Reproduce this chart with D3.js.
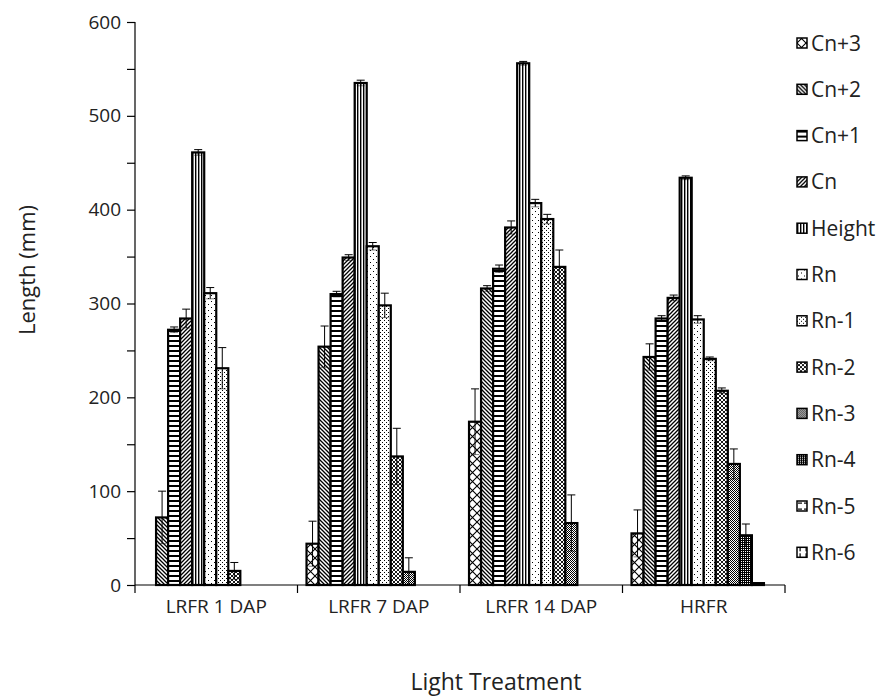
<!DOCTYPE html>
<html>
<head>
<meta charset="utf-8">
<script src="https://cdn.jsdelivr.net/npm/d3@7"></script>
<style>
  html, body { margin: 0; padding: 0; background: #fff; }
  svg { display: block; }
  text { font-family: "Open Sans", "DejaVu Sans", sans-serif; fill: #222; }
</style>
</head>
<body>
<svg id="chart" width="894" height="696"></svg>
<script>
// ---- data ----
const categories = ["LRFR 1 DAP", "LRFR 7 DAP", "LRFR 14 DAP", "HRFR"];
const seriesNames = ["Cn+3", "Cn+2", "Cn+1", "Cn", "Height", "Rn", "Rn-1", "Rn-2", "Rn-3", "Rn-4", "Rn-5", "Rn-6"];
// values per series, one per category
const values = [
  [0, 44, 174, 55],      // Cn+3
  [72, 254, 316, 243],   // Cn+2
  [272, 310, 337, 284],  // Cn+1
  [284, 349, 381, 306],  // Cn
  [461, 535, 556, 434],  // Height
  [311, 361, 407, 283],  // Rn
  [231, 298, 390, 241],  // Rn-1
  [15, 137, 339, 207],   // Rn-2
  [0, 14, 66, 129],      // Rn-3
  [0, 0, 0, 53],         // Rn-4
  [0, 0, 0, 2],          // Rn-5
  [0, 0, 0, 0]           // Rn-6
];
const errors = [
  [0, 24, 35, 25],
  [28, 22, 3, 14],
  [3, 3, 4, 3],
  [10, 3, 7, 3],
  [3, 3, 2, 2],
  [6, 4, 4, 4],
  [22, 13, 5, 2],
  [9, 30, 18, 3],
  [0, 15, 30, 16],
  [0, 0, 0, 12],
  [0, 0, 0, 0],
  [0, 0, 0, 0]
];
const yTicks = [0, 50, 100, 150, 200, 250, 300, 350, 400, 450, 500, 550, 600];
const yLabelTicks = [0, 100, 200, 300, 400, 500, 600];
const xTitle = "Light Treatment";
const yTitle = "Length (mm)";

// ---- layout ----
const svg = d3.select("#chart");
const mLeft = 135, mRight = 785, mTop = 22, mBottom = 585;

const x0 = d3.scaleBand().domain(categories).range([mLeft, mRight]).paddingInner(0).paddingOuter(0);
const x1 = d3.scaleBand().domain(seriesNames).range([0, x0.bandwidth()]).paddingInner(0).paddingOuter(0.75);
const y = d3.scaleLinear().domain([0, 600]).range([mBottom, mTop]);

// ---- patterns ----
const defs = svg.append("defs");
function pat(id, w, h, draw) {
  const p = defs.append("pattern").attr("id", id).attr("patternUnits", "userSpaceOnUse")
    .attr("width", w).attr("height", h);
  p.append("rect").attr("width", w).attr("height", h).attr("fill", "#fff");
  draw(p);
}
const px = (p, pts, col) => pts.forEach(([a, b]) => p.append("rect").attr("x", a).attr("y", b).attr("width", 1).attr("height", 1).attr("fill", col || "#000"));

pat("p0", 9, 9, p => p.append("path").attr("d", "M0,0L9,9M9,0L0,9").attr("stroke", "#000").attr("stroke-width", 1.1));
pat("p1", 4, 4, p => p.append("path").attr("d", "M0,0L4,4M-1,3L1,5M3,-1L5,1").attr("stroke", "#000").attr("stroke-width", 1.3));
pat("p2", 4, 5, p => p.append("rect").attr("x", 0).attr("y", 0).attr("width", 4).attr("height", 2).attr("fill", "#000"));
pat("p3", 4, 4, p => p.append("path").attr("d", "M0,4L4,0M-1,1L1,-1M3,5L5,3").attr("stroke", "#000").attr("stroke-width", 1.3));
pat("p4", 3, 3, p => p.append("rect").attr("x", 0).attr("y", 0).attr("width", 1.4).attr("height", 3).attr("fill", "#000"));
pat("p5", 6, 6, p => px(p, [[1, 1], [4, 4]]));
pat("p6", 4, 4, p => px(p, [[0, 0], [2, 2]]));
pat("p7", 4, 4, p => p.append("path").attr("d", "M0,0L4,4M-1,3L1,5M3,-1L5,1M0,4L4,0M-1,1L1,-1M3,5L5,3").attr("stroke", "#000").attr("stroke-width", 0.9));
pat("p8", 2, 2, p => px(p, [[0, 0], [1, 1]]));
pat("p9", 2, 2, p => { p.append("rect").attr("width", 2).attr("height", 2).attr("fill", "#000"); px(p, [[1, 1]], "#fff"); });
pat("p10", 6, 6, p => p.append("rect").attr("x", 1).attr("y", 2.5).attr("width", 4).attr("height", 1.2).attr("fill", "#000"));
pat("p11", 6, 6, p => p.append("rect").attr("x", 2.5).attr("y", 1).attr("width", 1.2).attr("height", 4).attr("fill", "#000"));

// ---- bars ----
const barData = [];
seriesNames.forEach((s, si) => categories.forEach((c, ci) => {
  barData.push({ s, si, c, v: values[si][ci], e: errors[si][ci] });
}));

const barsG = svg.append("g");
barsG.selectAll("rect").data(barData).join("rect")
  .attr("x", d => x0(d.c) + x1(d.s))
  .attr("y", d => y(d.v))
  .attr("width", x1.bandwidth())
  .attr("height", d => y(0) - y(d.v))
  .attr("fill", d => `url(#p${d.si})`)
  .attr("stroke", "#000")
  .attr("stroke-width", 2.2);

// error bars
const errG = svg.append("g").attr("stroke", "#000").attr("stroke-width", 1).attr("fill", "none");
barData.filter(d => d.e > 0).forEach(d => {
  const cx = x0(d.c) + x1(d.s) + x1.bandwidth() / 2;
  const hi = y(d.v + d.e), lo = y(Math.max(0, d.v - d.e));
  errG.append("line").attr("x1", cx).attr("x2", cx).attr("y1", hi).attr("y2", lo);
  errG.append("line").attr("x1", cx - 4).attr("x2", cx + 4).attr("y1", hi).attr("y2", hi);
  errG.append("line").attr("x1", cx - 4).attr("x2", cx + 4).attr("y1", lo).attr("y2", lo).attr("stroke-opacity", 0.5);
});

// ---- axes ----
const yAxis = d3.axisLeft(y).tickValues(yTicks).tickSize(8)
  .tickFormat(d => yLabelTicks.includes(d) ? d : "");
const yg = svg.append("g").attr("transform", `translate(${mLeft},0)`).call(yAxis);
yg.select(".domain").attr("stroke", "#000").attr("stroke-width", 1.2).attr("d", `M0,${mTop}V${mBottom}`);
yg.selectAll(".tick line").attr("stroke", "#000").attr("stroke-width", 1.2);
yg.selectAll(".tick text").attr("x", -14).attr("font-size", 19).style("font-family", "'Open Sans', sans-serif").attr("fill", "#222");

const xg = svg.append("g").attr("transform", `translate(0,${mBottom})`);
xg.append("line").attr("x1", mLeft).attr("x2", mRight).attr("y1", 0).attr("y2", 0).attr("stroke", "#000").attr("stroke-width", 1.2);
const bounds = categories.map(c => x0(c)).concat([mRight]);
xg.selectAll(".bt").data(bounds).join("line").attr("class", "bt")
  .attr("x1", d => d).attr("x2", d => d).attr("y1", 0).attr("y2", 8)
  .attr("stroke", "#000").attr("stroke-width", 1.2);
xg.selectAll(".xl").data(categories).join("text").attr("class", "xl")
  .attr("x", d => x0(d) + x0.bandwidth() / 2).attr("y", 28)
  .attr("text-anchor", "middle").attr("font-size", 19).text(d => d);

svg.append("text").attr("x", 496).attr("y", 690)
  .attr("text-anchor", "middle").attr("font-size", 23).text(xTitle);
svg.append("text").attr("transform", `translate(35,270) rotate(-90)`)
  .attr("text-anchor", "middle").attr("font-size", 22).text(yTitle);

// ---- legend ----
const lg = svg.append("g").attr("transform", "translate(797,43)");
const li = lg.selectAll("g").data(seriesNames).join("g")
  .attr("transform", (d, i) => `translate(0,${i * 46.3})`);
li.append("rect").attr("x", 0).attr("y", -5).attr("width", 10).attr("height", 10)
  .attr("fill", (d, i) => `url(#p${i})`).attr("stroke", "#000").attr("stroke-width", 1.5);
li.append("text").attr("x", 14).attr("y", 0).attr("dy", "0.36em").attr("font-size", 21).text(d => d);
</script>
</body>
</html>
